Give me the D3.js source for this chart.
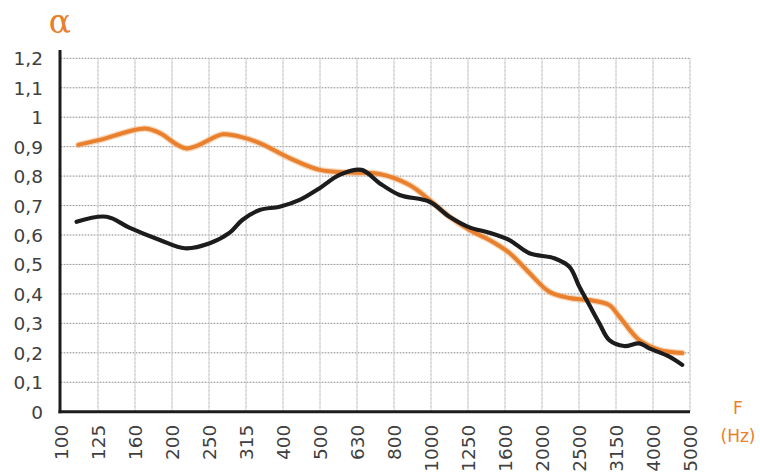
<!DOCTYPE html>
<html>
<head>
<meta charset="utf-8">
<script src="https://cdn.jsdelivr.net/npm/d3@7/dist/d3.min.js"></script>
<style>
  html, body { margin: 0; padding: 0; background: #fff; }
  svg { display: block; }
</style>
</head>
<body>
<svg id="chart" width="760" height="474"></svg>
<script>
// Third-octave band centre frequencies (Hz)
const bands = ["100","125","160","200","250","315","400","500","630","800",
               "1000","1250","1600","2000","2500","3150","4000","5000"];

// Absorption ticks
const alphaTicks = [0, 0.1, 0.2, 0.3, 0.4, 0.5, 0.6, 0.7, 0.8, 0.9, 1.0, 1.1, 1.2];

// Orange curve: position along the band axis and absorption coefficient
const orangePos   = [0.47, 1.05, 2.27, 2.67, 3.40, 4.37, 4.83, 5.37, 6.18, 6.99, 7.80, 8.61,
                     9.42, 9.96, 10.50, 11.04, 11.58, 12.12, 12.66, 13.20, 13.74, 14.28,
                     14.82, 15.09, 15.63, 16.17, 16.79];
const orangeAlpha = [0.906, 0.923, 0.962, 0.946, 0.894, 0.942, 0.934, 0.912, 0.861, 0.821,
                     0.812, 0.807, 0.770, 0.719, 0.662, 0.617, 0.583, 0.539, 0.471, 0.407,
                     0.386, 0.379, 0.362, 0.323, 0.243, 0.210, 0.199];

// Black curve
const blackPos   = [0.42, 1.23, 1.86, 2.67, 3.35, 4.02, 4.56, 4.90, 5.37, 5.91, 6.45, 6.99,
                    7.53, 8.12, 8.61, 9.15, 9.96, 10.50, 11.04, 11.58, 12.12, 12.66, 13.33,
                    13.74, 14.01, 14.28, 14.55, 14.82, 15.22, 15.63, 15.90, 16.44, 16.79];
const blackAlpha = [0.645, 0.662, 0.624, 0.583, 0.555, 0.572, 0.608, 0.651, 0.685, 0.696,
                    0.719, 0.759, 0.804, 0.821, 0.776, 0.736, 0.713, 0.662, 0.626, 0.608,
                    0.583, 0.538, 0.521, 0.492, 0.424, 0.362, 0.300, 0.243, 0.223, 0.232,
                    0.215, 0.187, 0.159];

const ORANGE = "#e8802e";
const INK = "#1c1c1c";
const TEXT = "#404040";
const FONT = "'DejaVu Sans', sans-serif";

const svg = d3.select("#chart");
const plotLeft = 61, plotRight = 690, plotTop = 58.3, plotBottom = 411.7;

const x = d3.scaleLinear().domain([0, bands.length - 1]).range([plotLeft, plotRight]);
const y = d3.scaleLinear().domain([0, 1.2]).range([plotBottom, plotTop]);

// Grid: light solid lines with a dotted overlay
const grid = svg.append("g");
alphaTicks.filter(t => t > 0).forEach(t => {
  grid.append("line").attr("x1", plotLeft).attr("x2", plotRight).attr("y1", y(t)).attr("y2", y(t))
    .attr("stroke", "#d6d6d6").attr("stroke-width", 1);
  grid.append("line").attr("x1", plotLeft).attr("x2", plotRight).attr("y1", y(t)).attr("y2", y(t))
    .attr("stroke", "#999").attr("stroke-width", 1).attr("stroke-dasharray", "1,2");
});
bands.forEach((b, i) => {
  if (i === 0) return;
  grid.append("line").attr("x1", x(i)).attr("x2", x(i)).attr("y1", plotTop).attr("y2", plotBottom)
    .attr("stroke", "#d2d2d2").attr("stroke-width", 1);
  grid.append("line").attr("x1", x(i)).attr("x2", x(i)).attr("y1", plotTop).attr("y2", plotBottom)
    .attr("stroke", "#bbb").attr("stroke-width", 1).attr("stroke-dasharray", "1,3");
});

// Curves
const line = d3.line()
  .x(d => x(d[0]))
  .y(d => y(d[1]))
  .curve(d3.curveCatmullRom.alpha(0.5));

const orangeData = orangePos.map((p, i) => [p, orangeAlpha[i]]);
const blackData = blackPos.map((p, i) => [p, blackAlpha[i]]);

svg.append("path").datum(orangeData).attr("d", line)
  .attr("fill", "none").attr("stroke", "#f3b27a").attr("stroke-width", 6.5)
  .attr("stroke-opacity", 0.55).attr("stroke-linecap", "round");
svg.append("path").datum(orangeData).attr("d", line)
  .attr("fill", "none").attr("stroke", ORANGE).attr("stroke-width", 4)
  .attr("stroke-linecap", "round");
svg.append("path").datum(blackData).attr("d", line)
  .attr("fill", "none").attr("stroke", INK).attr("stroke-width", 4.2)
  .attr("stroke-linecap", "round");

// Axes
const yAxis = d3.axisLeft(y).tickValues(alphaTicks).tickSize(0).tickPadding(0)
  .tickFormat(d => d3.format(".1~f")(d).replace(".", ","));
const gy = svg.append("g").attr("transform", `translate(43,0)`).call(yAxis);
gy.select(".domain").remove();
gy.selectAll("text").attr("font-family", FONT).attr("font-size", 18.5).attr("fill", TEXT)
  .attr("dy", "0.35em");

const xAxis = d3.axisBottom(x).tickValues(d3.range(bands.length)).tickSize(0)
  .tickFormat(i => bands[i]);
const gx = svg.append("g").attr("transform", `translate(0,${plotBottom})`).call(xAxis);
gx.select(".domain").remove();
gx.selectAll("text").attr("font-family", FONT).attr("font-size", 18.5).attr("fill", TEXT)
  .attr("text-anchor", "end").attr("dy", "0.35em").attr("y", 0)
  .attr("transform", "translate(0,13) rotate(-90)");

svg.append("line").attr("x1", 60).attr("x2", 60).attr("y1", 50).attr("y2", plotBottom + 1.5)
  .attr("stroke", INK).attr("stroke-width", 3);
svg.append("line").attr("x1", 58.5).attr("x2", plotRight).attr("y1", plotBottom).attr("y2", plotBottom)
  .attr("stroke", INK).attr("stroke-width", 3);

// Axis titles
svg.append("text").attr("x", 60).attr("y", 33).attr("text-anchor", "middle")
  .attr("font-family", "'DejaVu Serif', serif").attr("font-size", 33).attr("fill", ORANGE)
  .text("α");
svg.append("text").attr("x", 738).attr("y", 414).attr("text-anchor", "middle")
  .attr("font-family", FONT).attr("font-size", 17).attr("fill", ORANGE).text("F");
svg.append("text").attr("x", 738).attr("y", 442).attr("text-anchor", "middle")
  .attr("font-family", FONT).attr("font-size", 17).attr("fill", ORANGE).text("(Hz)");
</script>
</body>
</html>
